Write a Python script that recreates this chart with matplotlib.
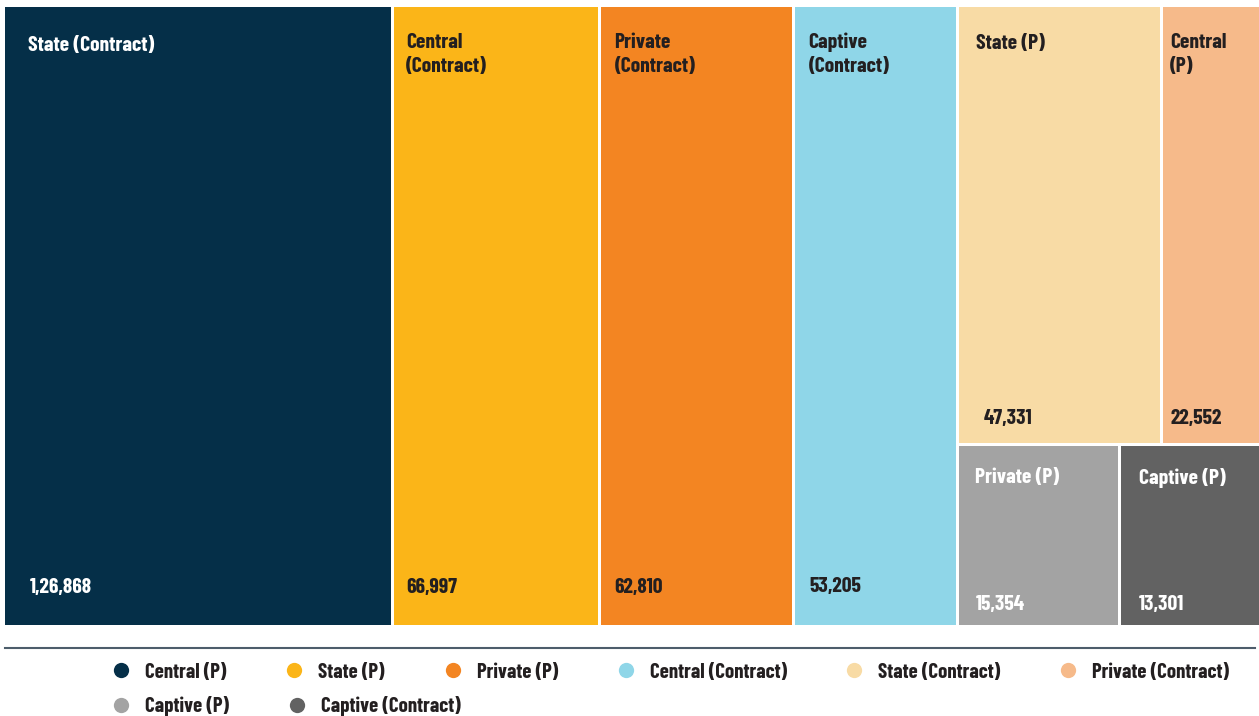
import matplotlib.pyplot as plt
from matplotlib.patches import Rectangle
from matplotlib.lines import Line2D

# Treemap data
names = ['State (Contract)', 'Central (Contract)', 'Private (Contract)', 'Captive (Contract)',
         'State (P)', 'Central (P)', 'Private (P)', 'Captive (P)']
box_labels = ['State (Contract)', 'Central\n(Contract)', 'Private\n(Contract)', 'Captive\n(Contract)',
              'State (P)', 'Central\n(P)', 'Private (P)', 'Captive (P)']
values = [126868, 66997, 62810, 53205, 47331, 22552, 15354, 13301]
value_labels = ['1,26,868', '66,997', '62,810', '53,205', '47,331', '22,552', '15,354', '13,301']

legend_names = ['Central (P)', 'State (P)', 'Private (P)', 'Central (Contract)',
                'State (Contract)', 'Private (Contract)', 'Captive (P)', 'Captive (Contract)']

colors = ['#052f48', '#fbb518', '#f38522', '#8fd6e8', '#f8dba5', '#f6ba8a', '#a3a3a3', '#626262']
text_colors = ['white', '#231f20', '#231f20', '#231f20', '#231f20', '#231f20', 'white', 'white']

# columns of the layout; the last column holds two rows of boxes
columns = [[0], [1], [2], [3], [[4, 5], [6, 7]]]

# label padding in pixels (left, top of name, baseline of value)
name_left = [23, 12, 14, 14, 17, 7, 16, 18]
value_left = [25, 12, 14, 15, 24, 7, 16, 18]
name_top = [29, 26, 26, 26, 27, 26, 22, 22]
value_bottom = [32, 32, 32, 33, 19, 19, 15, 15]

FONT = 'Barlow Condensed'
W, H = 1259, 716
AX_W, AX_H = 1254, 618
GAP = 3  # white gap between boxes, pixels

fig = plt.figure(figsize=(W / 100, H / 100), dpi=100)
ax = fig.add_axes([5 / W, 1 - 625 / H, AX_W / W, AX_H / H])
ax.set_xlim(0, AX_W)
ax.set_ylim(AX_H, 0)
ax.axis('off')

# slice into columns, then dice the last column into rows
rects = {}
col_sums = [sum(values[i] for row in c for i in row) if isinstance(c[0], list) else values[c[0]]
            for c in columns]
free_w = AX_W - GAP * (len(columns) - 1)
x = 0.0
for col, csum in zip(columns, col_sums):
    cw = free_w * csum / sum(values)
    if isinstance(col[0], list):
        free_h = AX_H - GAP * (len(col) - 1)
        y = 0.0
        for row in col:
            rsum = sum(values[i] for i in row)
            rh = free_h * rsum / csum
            row_w = cw - GAP * (len(row) - 1)
            xx = x
            for i in row:
                w = row_w * values[i] / rsum
                rects[i] = (xx, y, w, rh)
                xx += w + GAP
            y += rh + GAP
    else:
        rects[col[0]] = (x, 0.0, cw, AX_H)
    x += cw + GAP

for i in range(len(values)):
    x0, y0, w, h = rects[i]
    ax.add_patch(Rectangle((x0, y0), w, h, facecolor=colors[i], edgecolor='none'))
    ax.annotate(box_labels[i], xy=(x0, y0), xytext=(name_left[i], -name_top[i]),
                textcoords='offset pixels', ha='left', va='top', color=text_colors[i],
                fontsize=15.5, fontweight='bold', family=FONT, linespacing=1.3)
    ax.annotate(value_labels[i], xy=(x0, y0 + h), xytext=(value_left[i], value_bottom[i]),
                textcoords='offset pixels', ha='left', va='baseline', color=text_colors[i],
                fontsize=15.5, fontweight='bold', family=FONT)

# separator above the legend
fig.add_artist(Line2D([5 / W, 1255 / W], [1 - 648 / H, 1 - 648 / H], transform=fig.transFigure,
                      color='#4d5d6b', linewidth=1.5))


# legend: two rows, the second one starting under the first
def legend_row(idx, y_px):
    handles = [Line2D([], [], marker='o', linestyle='none', markersize=11,
                      markerfacecolor=colors[k], markeredgecolor='none') for k in idx]
    leg = fig.legend(handles, [legend_names[k] for k in idx], ncol=len(idx), loc='center left',
                     bbox_to_anchor=(111 / W, 1 - y_px / H), frameon=False,
                     prop={'family': FONT, 'weight': 'bold', 'size': 15},
                     handlelength=1.0, handletextpad=0.65, columnspacing=2.75,
                     borderaxespad=0, borderpad=0)
    for t in leg.get_texts():
        t.set_color('#231f20')
    return leg


legend_row([0, 1, 2, 3, 4, 5], 672)
legend_row([6, 7], 706)

fig.savefig('out.png', dpi=100)
